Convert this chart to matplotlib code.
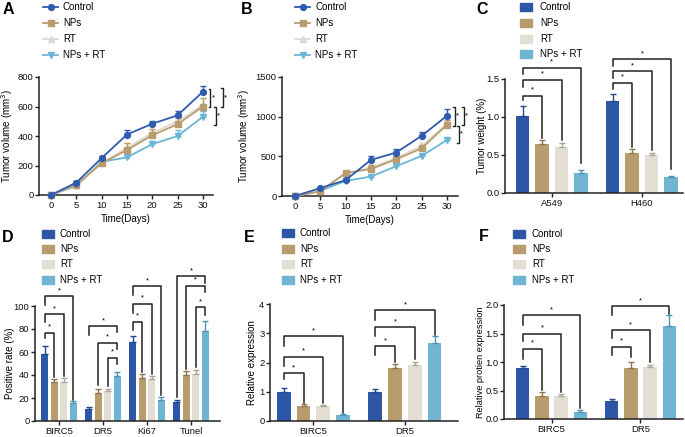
import numpy as np
import matplotlib
matplotlib.use("Agg")
import matplotlib.pyplot as plt
from matplotlib.lines import Line2D
from matplotlib.patches import Rectangle

plt.rcParams['font.family'] = ['Liberation Sans', 'DejaVu Sans']
plt.rcParams['font.size'] = 7

W, H = 685, 437
fig = plt.figure(figsize=(W / 100, H / 100), dpi=100)

# ---------------- data ----------------
groups = ['Control', 'NPs', 'RT', 'NPs + RT']
colors = ['#2E56A6', '#B89C6E', '#E2DED3', '#6FB4D1']
err_colors = ['#24478C', '#8E7550', '#A9A59B', '#4E93B0']
line_colors = ['#2F5BB0', '#B89C6E', '#DEDAD0', '#6BB6D6']
markers = ['o', 's', '^', 'v']

days = [0, 5, 10, 15, 20, 25, 30]
a_vals = {
    'Control': [0, 84, 250, 410, 483, 540, 700],
    'NPs': [0, 70, 215, 305, 405, 480, 600],
    'RT': [0, 65, 215, 320, 420, 500, 610],
    'NPs + RT': [0, 60, 225, 255, 345, 400, 530],
}
a_err = {
    'Control': [0, 8, 15, 30, 18, 30, 40],
    'NPs': [0, 5, 10, 45, 40, 40, 60],
    'RT': [0, 5, 10, 30, 30, 30, 50],
    'NPs + RT': [0, 5, 10, 15, 20, 40, 40],
}
b_vals = {
    'Control': [0, 100, 200, 455, 548, 758, 1010],
    'NPs': [0, 60, 290, 340, 463, 600, 897],
    'RT': [0, 70, 280, 360, 480, 630, 910],
    'NPs + RT': [0, 65, 190, 245, 375, 505, 705],
}
b_err = {
    'Control': [0, 10, 15, 50, 40, 55, 90],
    'NPs': [0, 10, 15, 50, 30, 40, 60],
    'RT': [0, 10, 15, 40, 30, 40, 50],
    'NPs + RT': [0, 5, 10, 15, 15, 15, 30],
}

c_cats = ['A549', 'H460']
c_vals = {'Control': [1.01, 1.21], 'NPs': [0.645, 0.52], 'RT': [0.60, 0.50], 'NPs + RT': [0.26, 0.21]}
c_err = {'Control': [0.13, 0.09], 'NPs': [0.055, 0.06], 'RT': [0.06, 0.03], 'NPs + RT': [0.04, 0.02]}

d_cats = ['BIRC5', 'DR5', 'Ki67', 'Tunel']
d_vals = {'Control': [58.5, 10.2, 68.5, 16.3], 'NPs': [33.8, 24.7, 37.2, 40.0],
          'RT': [33.5, 26.3, 36.8, 41.0], 'NPs + RT': [15.3, 38.8, 18.3, 78.5]}
d_err = {'Control': [7, 1.8, 5.5, 1.7], 'NPs': [3, 3.3, 3.8, 3.6],
         'RT': [4.2, 1.8, 2.7, 3.6], 'NPs + RT': [1.7, 4.2, 2.7, 8.5]}

e_cats = ['BIRC5', 'DR5']
e_vals = {'Control': [1.0, 1.0], 'NPs': [0.51, 1.81], 'RT': [0.50, 1.90], 'NPs + RT': [0.21, 2.68]}
e_err = {'Control': [0.13, 0.10], 'NPs': [0.07, 0.13], 'RT': [0.05, 0.13], 'NPs + RT': [0.03, 0.22]}

f_cats = ['BIRC5', 'DR5']
f_vals = {'Control': [0.90, 0.316], 'NPs': [0.41, 0.90], 'RT': [0.40, 0.915], 'NPs + RT': [0.13, 1.63]}
f_err = {'Control': [0.03, 0.035], 'NPs': [0.06, 0.10], 'RT': [0.03, 0.04], 'NPs + RT': [0.035, 0.19]}

# significance annotations: (group, bar_i, bar_j, top, left_bottom, right_bottom)
c_sig = [(0, 0, 1, 1.28, 1.23, 0.72), (0, 0, 2, 1.49, 1.39, 0.70), (0, 0, 3, 1.65, 1.56, 0.39),
         (1, 0, 1, 1.45, 1.37, 0.61), (1, 0, 2, 1.60, 1.51, 0.57), (1, 0, 3, 1.76, 1.67, 0.31)]
d_sig = [(0, 0, 1, 76.7, 72, 38.4), (0, 0, 2, 93, 86, 39.5), (0, 0, 3, 108.7, 101, 18),
         (1, 0, 3, 82.6, 74.7, 77.6), (1, 1, 3, 68, 31, 63), (1, 2, 3, 55.2, 30.5, 49.4),
         (2, 0, 1, 86.3, 79, 42.7), (2, 0, 2, 102, 94, 40.7), (2, 0, 3, 117.4, 109.6, 22.4),
         (3, 0, 3, 126, 21, 119.8), (3, 1, 3, 117.7, 45.6, 112.5), (3, 2, 3, 98.8, 47, 92)]
e_sig = [(0, 0, 1, 1.63, 1.43, 0.62), (0, 0, 2, 2.2, 1.89, 0.60), (0, 0, 3, 2.89, 2.57, 0.28),
         (1, 0, 1, 2.55, 2.26, 2.02), (1, 0, 2, 3.2, 2.89, 2.11), (1, 0, 3, 3.78, 3.46, 2.95)]
f_sig = [(0, 0, 1, 1.23, 1.06, 0.51), (0, 0, 2, 1.50, 1.36, 0.48), (0, 0, 3, 1.82, 1.65, 0.19),
         (1, 0, 1, 1.27, 1.12, 1.09), (1, 0, 2, 1.56, 1.42, 1.0), (1, 0, 3, 1.98, 1.82, 1.85)]
# line-chart side brackets: (x, y_top, y_bottom)
a_sig = [(31.5, 720, 597), (33.9, 725, 597), (32.6, 597, 475)]
b_sig = [(31.6, 1125, 886), (33.4, 1125, 900), (32.3, 886, 668)]

INK = '#222222'


def rect(l, t, r, b):
    return [l / W, 1 - b / H, (r - l) / W, (b - t) / H]


def fp(x, y):
    return x / W, 1 - y / H


def style(ax):
    for s in ['top', 'right']:
        ax.spines[s].set_visible(False)
    for s in ['left', 'bottom']:
        ax.spines[s].set_linewidth(1.1)
        ax.spines[s].set_color(INK)
    ax.tick_params(length=3, width=1, color=INK, labelsize=6.8, pad=1, labelcolor='#111111')


def panel_letter(ch, x, y):
    fig.text(*fp(x, y), ch, fontsize=11.5, fontweight='bold', ha='center', va='center')


def line_legend(xl, xt, ys):
    for k, g in enumerate(groups):
        x0, y0 = fp(xl, ys[k])
        x1, _ = fp(xl + 15, ys[k])
        fig.add_artist(Line2D([x0, x1], [y0, y0], color=line_colors[k], lw=1.3,
                              transform=fig.transFigure))
        fig.add_artist(Line2D([(x0 + x1) / 2], [y0], color=line_colors[k], lw=0,
                              marker=markers[k], ms=4.2, transform=fig.transFigure))
        fig.text(*fp(xt, ys[k]), g, fontsize=7, ha='left', va='center')


def bar_legend(xl, xt, ys):
    for k, g in enumerate(groups):
        x0, y0 = fp(xl, ys[k] + 4)
        w = 12 / W
        h = 8 / H
        fig.add_artist(Rectangle((x0, y0), w, h, color=colors[k], transform=fig.transFigure))
        fig.text(*fp(xt, ys[k]), g, fontsize=7, ha='left', va='center')


def line_panel(box, vals, errs, ylim, yticks, xlim, ylabel, ylab_x, sig):
    ax = fig.add_axes(rect(*box))
    style(ax)
    for k in [3, 2, 1, 0]:
        g = groups[k]
        v = np.array(vals[g], float)
        e = np.array(errs[g], float)
        ax.errorbar(days, v, yerr=[np.zeros_like(e), e], color=line_colors[k],
                    marker=markers[k], ms=4.2, lw=1.3, elinewidth=1, capsize=2.5,
                    capthick=1, clip_on=False, zorder=3 + (3 - k))
    ax.set_xlim(*xlim)
    ax.set_ylim(*ylim)
    ax.set_yticks(yticks)
    ax.set_xticks(days)
    ax.set_xlabel('Time(Days)', fontsize=7, labelpad=3)
    ax.set_ylabel(ylabel, fontsize=7)
    ax.yaxis.set_label_coords(ylab_x, 0.5)
    dx = 0.35
    for x, yt, yb in sig:
        ax.plot([x - dx, x, x, x - dx], [yt, yt, yb, yb], color=INK, lw=1, clip_on=False)
        ax.text(x + 0.5, (yt + yb) / 2, '*', fontsize=5.5, ha='center', va='center', clip_on=False)
    return ax


def bar_panel(box, cats, vals, errs, ylim, yticks, xlim, ylabel, ylab_x, sig, fmt=None,
              ylab_size=7):
    ax = fig.add_axes(rect(*box))
    style(ax)
    xs = np.arange(len(cats))
    off = (np.arange(4) - 1.5) * 0.216
    width = 0.15
    for k, g in enumerate(groups):
        v = np.array(vals[g], float)
        e = np.array(errs[g], float)
        ax.bar(xs + off[k], v, width=width, color=colors[k], zorder=2)
        ax.errorbar(xs + off[k], v, yerr=[np.zeros_like(e), e], fmt='none',
                    ecolor=err_colors[k], elinewidth=1, capsize=2.5, capthick=1, zorder=3)
    for gi, i, j, top, lb, rb in sig:
        xi, xj = gi + off[i], gi + off[j]
        ax.plot([xi, xi, xj, xj], [lb, top, top, rb], color=INK, lw=1.1, clip_on=False)
        ax.annotate('*', xy=((xi + xj) / 2, top), xytext=(0, 1.5), textcoords='offset points',
                    ha='center', va='bottom', fontsize=5.5, annotation_clip=False)
    ax.set_xlim(*xlim)
    ax.set_ylim(*ylim)
    ax.set_yticks(yticks)
    if fmt:
        ax.set_yticklabels([fmt.format(t) for t in yticks])
    ax.set_xticks(xs)
    ax.set_xticklabels(cats)
    ax.set_ylabel(ylabel, fontsize=ylab_size)
    ax.yaxis.set_label_coords(ylab_x, 0.5)
    return ax


# ---------- A ----------
line_panel((39, 77, 213, 195), a_vals, a_err, (0, 800), [0, 200, 400, 600, 800],
           (-2.37, 32.0), 'Tumor volume (mm$^3$)', -0.138, a_sig)
panel_letter('A', 8, 10)
line_legend(43, 63, [7, 23, 39, 55])

# ---------- B ----------
line_panel((282, 77, 458, 196), b_vals, b_err, (0, 1500), [0, 500, 1000, 1500],
           (-2.57, 32.2), 'Tumor volume (mm$^3$)', -0.17, b_sig)
panel_letter('B', 247, 9)
line_legend(295, 315, [7, 23, 39, 55])

# ---------- C ----------
bar_panel((505, 79, 683, 193), c_cats, c_vals, c_err, (0, 1.5), [0, 0.5, 1.0, 1.5],
          (-0.52, 1.456), 'Tumor weight (%)', -0.102, c_sig, fmt='{:.1f}')
panel_letter('C', 482, 9)
bar_legend(520, 540, [7, 23, 39, 54])

# ---------- D ----------
bar_panel((35, 306, 220, 421), d_cats, d_vals, d_err, (0, 100), [0, 20, 40, 60, 80, 100],
          (-0.545, 3.66), 'Positive rate (%)', -0.108, d_sig)
panel_letter('D', 8, 237)
bar_legend(42, 60, [234, 249, 264, 280])

# ---------- E ----------
bar_panel((270, 304, 458, 421), e_cats, e_vals, e_err, (0, 4), [0, 1, 2, 3, 4],
          (-0.475, 1.58), 'Relative expression', -0.069, e_sig)
panel_letter('E', 249, 237)
bar_legend(282, 300, [233, 249, 264, 280])

# ---------- F ----------
bar_panel((504, 305, 683, 419), f_cats, f_vals, f_err, (0, 2.0), [0, 0.5, 1.0, 1.5, 2.0],
          (-0.534, 1.478), 'Relative protien expression', -0.108, f_sig, fmt='{:.1f}',
          ylab_size=6.6)
panel_letter('F', 484, 236)
bar_legend(513, 532, [234, 249, 264, 280])

fig.savefig('out.png', dpi=100)
